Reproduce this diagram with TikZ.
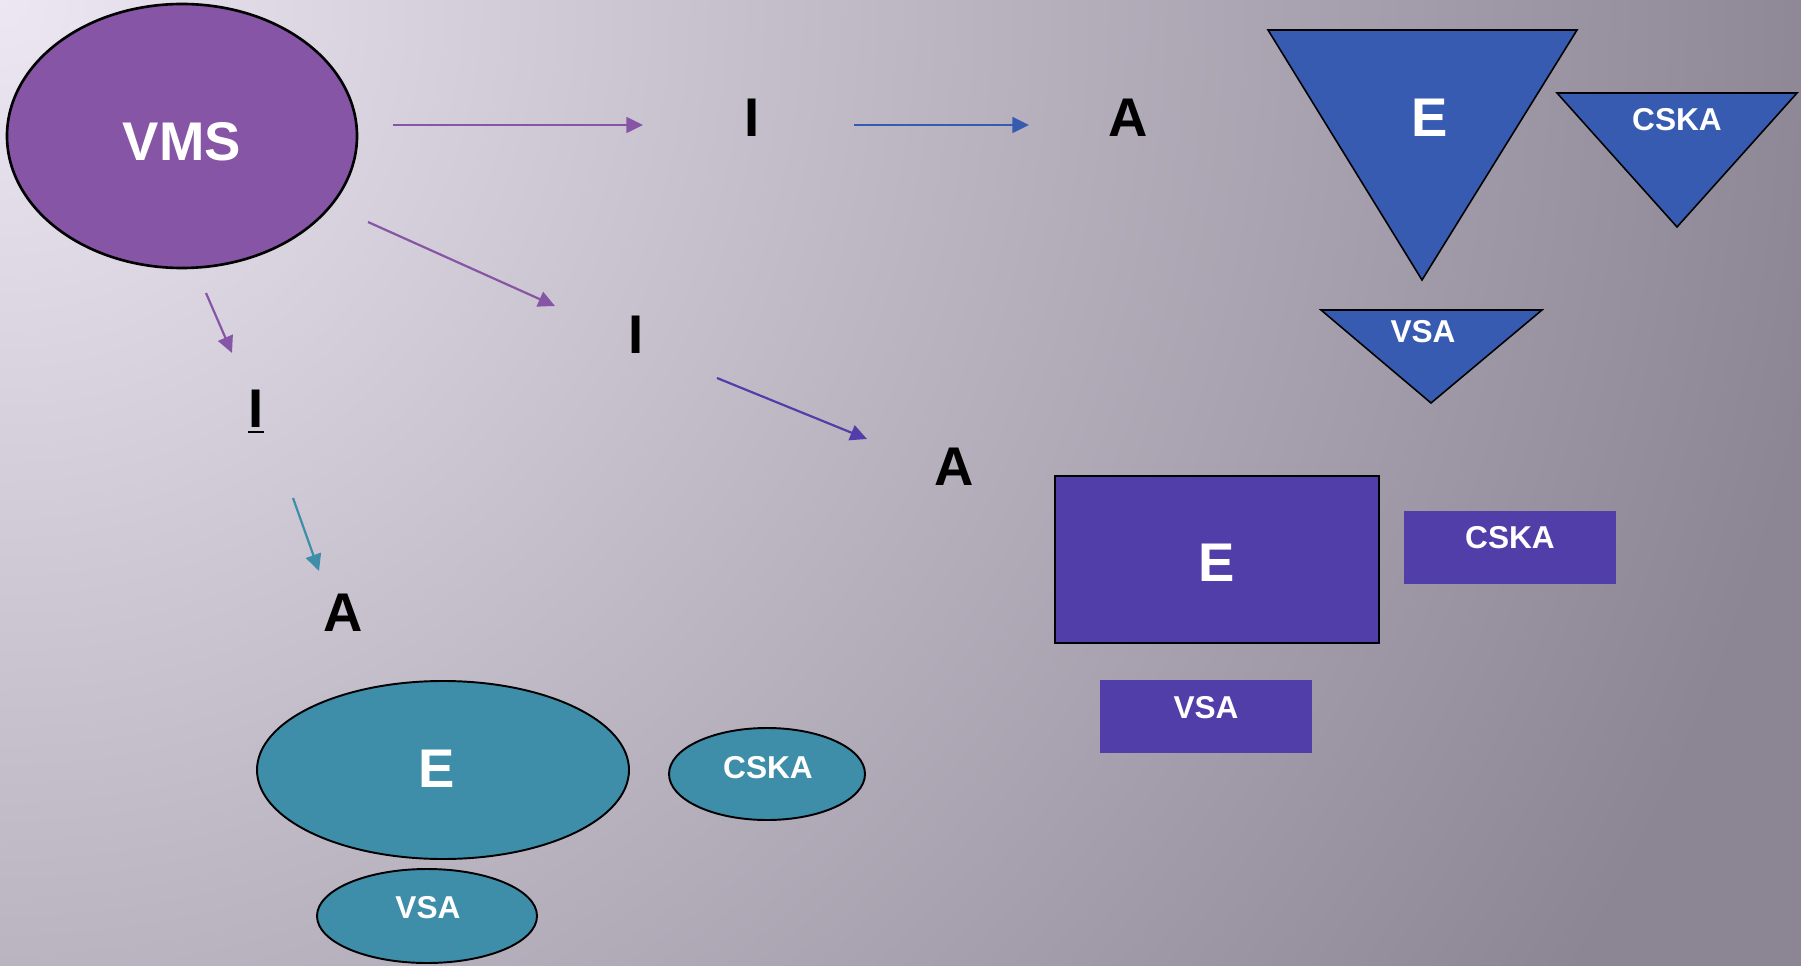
\documentclass[tikz,border=0pt]{standalone}
\usepackage{fontspec}
\setmainfont{Liberation Sans}
\usetikzlibrary{arrows.meta}

\definecolor{vmspurple}{RGB}{135,85,165}
\definecolor{triblue}{RGB}{56,91,178}
\definecolor{boxindigo}{RGB}{82,62,168}
\definecolor{elteal}{RGB}{62,142,170}
\definecolor{bginner}{RGB}{236,231,242}
\definecolor{bgouter}{RGB}{140,133,148}

% underline with a thicker rule, set a little below the baseline
\newsavebox{\ulinebox}
\newcommand{\lineunder}[1]{\sbox{\ulinebox}{#1}%
	\rlap{\vrule height -2.4pt depth 3.5pt width \wd\ulinebox}\usebox{\ulinebox}}

\begin{document}
\begin{tikzpicture}[x=0.02cm, y=-0.02cm,
			>={Triangle[length=9.5pt, width=9pt]},
			big/.style={font=\bfseries\fontsize{31}{31}\selectfont, inner sep=0pt},
			small/.style={font=\bfseries\fontsize{18}{18}\selectfont, text=white, inner sep=0pt},
			arr/.style={->, line width=1.25pt}]
			% background: light in the top left corner, darker towards the right
			\useasboundingbox (0,0) rectangle (1801,966);
			\begin{scope}
				\clip (0,0) rectangle (1801,966);
				\shade[inner color=bginner, outer color=bgouter] (-1850,-1850) rectangle (1850,1850);
			\end{scope}
			% root
			\filldraw[fill=vmspurple, draw=black, line width=1.5pt]
			(182,136) ellipse [x radius=175, y radius=132];
			\node[big, text=white] (vms) at (182,142) {VMS};
			% top row: triangles
			\node[big] (itop) at (752,117.5) {I};
			\node[big] (atop) at (1128,117.5) {A};
			\filldraw[fill=triblue, draw=black, line width=0.9pt]
			(1268,30) -- (1577,30) -- (1422,280) -- cycle;
			\filldraw[fill=triblue, draw=black, line width=0.9pt]
			(1557,93) -- (1797,93) -- (1677,227) -- cycle;
			\filldraw[fill=triblue, draw=black, line width=0.9pt]
			(1321,310) -- (1542,310) -- (1431,403) -- cycle;
			\node[big, text=white] (etri) at (1430,118) {E};
			\node[small] (cskatri) at (1677,120) {CSKA};
			\node[small] (vsatri) at (1423,332) {VSA};
			% middle row: rectangles
			\node[big] (imid) at (636,334.5) {I};
			\node[big] (amid) at (954,467) {A};
			\filldraw[fill=boxindigo, draw=black, line width=1.3pt]
			(1055,476) rectangle (1379,643);
			\fill[boxindigo] (1404,511) rectangle (1616,584);
			\fill[boxindigo] (1100,680) rectangle (1312,753);
			\node[big, text=white] (ebox) at (1217,563) {E};
			\node[small] (cskabox) at (1510,538) {CSKA};
			\node[small] (vsabox) at (1206,708) {VSA};
			% left column: ellipses
			\node[big, anchor=base] (ileft) at (256,427) {\lineunder{I}};
			\node[big] (aleft) at (343,612.5) {A};
			\filldraw[fill=elteal, draw=black, line width=1.1pt]
			(443,770) ellipse [x radius=186, y radius=89];
			\filldraw[fill=elteal, draw=black, line width=1.1pt]
			(767,774) ellipse [x radius=98, y radius=46];
			\filldraw[fill=elteal, draw=black, line width=1.1pt]
			(427,916) ellipse [x radius=110, y radius=47];
			\node[big, text=white] (eell) at (437,769) {E};
			\node[small] (cskaell) at (768,768) {CSKA};
			\node[small] (vsaell) at (428,908) {VSA};
			% arrow ends (the arrows stop short of the letters)
			\coordinate (vms-r) at (393,125);
			\coordinate (itop-in) at (643,125);
			\coordinate (itop-out) at (854,125);
			\coordinate (atop-in) at (1029,125);
			\coordinate (vms-rd) at (368,222);
			\coordinate (imid-in) at (555,306);
			\coordinate (imid-out) at (717,378);
			\coordinate (amid-in) at (867,439);
			\coordinate (vms-d) at (206,293);
			\coordinate (ileft-in) at (232,353);
			\coordinate (ileft-out) at (293,498);
			\coordinate (aleft-in) at (319,571);
			\draw[arr, vmspurple] (vms-r) -- (itop-in);
			\draw[arr, triblue] (itop-out) -- (atop-in);
			\draw[arr, vmspurple] (vms-rd) -- (imid-in);
			\draw[arr, boxindigo] (imid-out) -- (amid-in);
			\draw[arr, vmspurple] (vms-d) -- (ileft-in);
			\draw[arr, elteal] (ileft-out) -- (aleft-in);
		\end{tikzpicture}
\end{document}
